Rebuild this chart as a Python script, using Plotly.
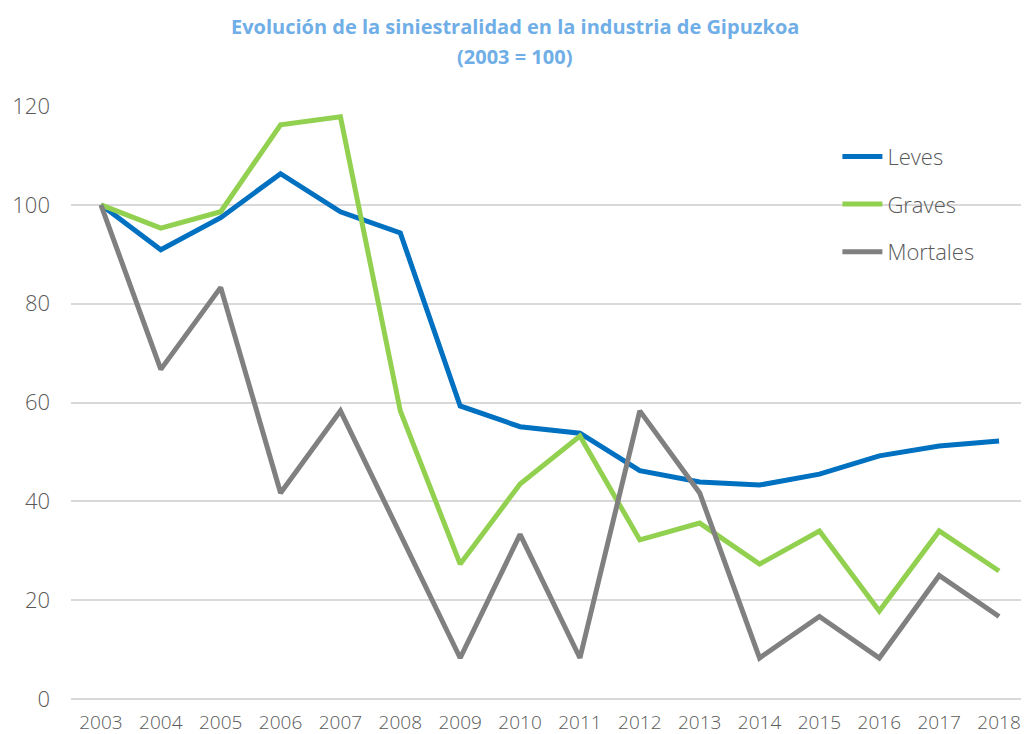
import plotly.graph_objects as go

#########################
#   Data
#########################
years = [str(y) for y in range(2003, 2019)]

leves = [100, 90.9, 97.4, 106.3, 98.6, 94.3, 59.3, 55.1, 53.8, 46.2, 43.9, 43.3, 45.5, 49.2, 51.2, 52.2]
graves = [100, 95.3, 98.6, 116.2, 117.8, 58.3, 27.3, 43.5, 53.2, 32.2, 35.6, 27.3, 34.0, 17.8, 34.0, 25.9]
mortales = [100, 66.7, 83.3, 41.7, 58.3, 33.3, 8.3, 33.3, 8.3, 58.3, 41.7, 8.3, 16.7, 8.3, 25.0, 16.7]

series = [
    ('Leves', leves, '#0070C0'),
    ('Graves', graves, '#92D050'),
    ('Mortales', mortales, '#808080'),
]

title_lines = ['Evolución de la siniestralidad en la industria de Gipuzkoa', '(2003 = 100)']

#########################
#   Plotting
#########################
fig = go.Figure()
for name, values, color in series:
    fig.add_trace(go.Scatter(
        x=years, y=values, name=name, mode='lines', legendgroup=name,
        line=dict(color=color, width=5),
    ))

# the page body adds an 8px margin, so the figure is a bit smaller than the window
fig.update_layout(
    width=1021, height=726,
    margin=dict(l=63, r=0, t=98, b=35),
    paper_bgcolor='white', plot_bgcolor='white',
    font=dict(family='Open Sans', color='#595959'),
    legend=dict(
        x=0.80, y=0.95, xanchor='left', yanchor='top',
        bgcolor='rgba(0,0,0,0)', font=dict(size=22, color='#595959', weight=300),
        tracegroupgap=16, itemwidth=40,
    ),
    xaxis=dict(
        type='category', range=[-0.5, 15.5], showgrid=False,
        tickfont=dict(size=19, weight=300), ticks='', showline=False,
        ticklabelstandoff=10,
    ),
    yaxis=dict(
        range=[0, 120], dtick=20, showgrid=True, gridcolor='#D9D9D9', gridwidth=1.5,
        zeroline=True, zerolinecolor='#D9D9D9', zerolinewidth=1.5,
        tickfont=dict(size=22, weight=300), ticklabelstandoff=20,
    ),
)

for i, line in enumerate(title_lines):
    fig.add_annotation(
        text='<b>' + line + '</b>', showarrow=False,
        xref='paper', yref='paper', x=0.463, y=1 + (79 - 30 * i) / 593,
        xanchor='center', yanchor='middle',
        font=dict(size=20, color='#6FAEE6', family='Open Sans'),
    )

fig.write_html('out.html')
